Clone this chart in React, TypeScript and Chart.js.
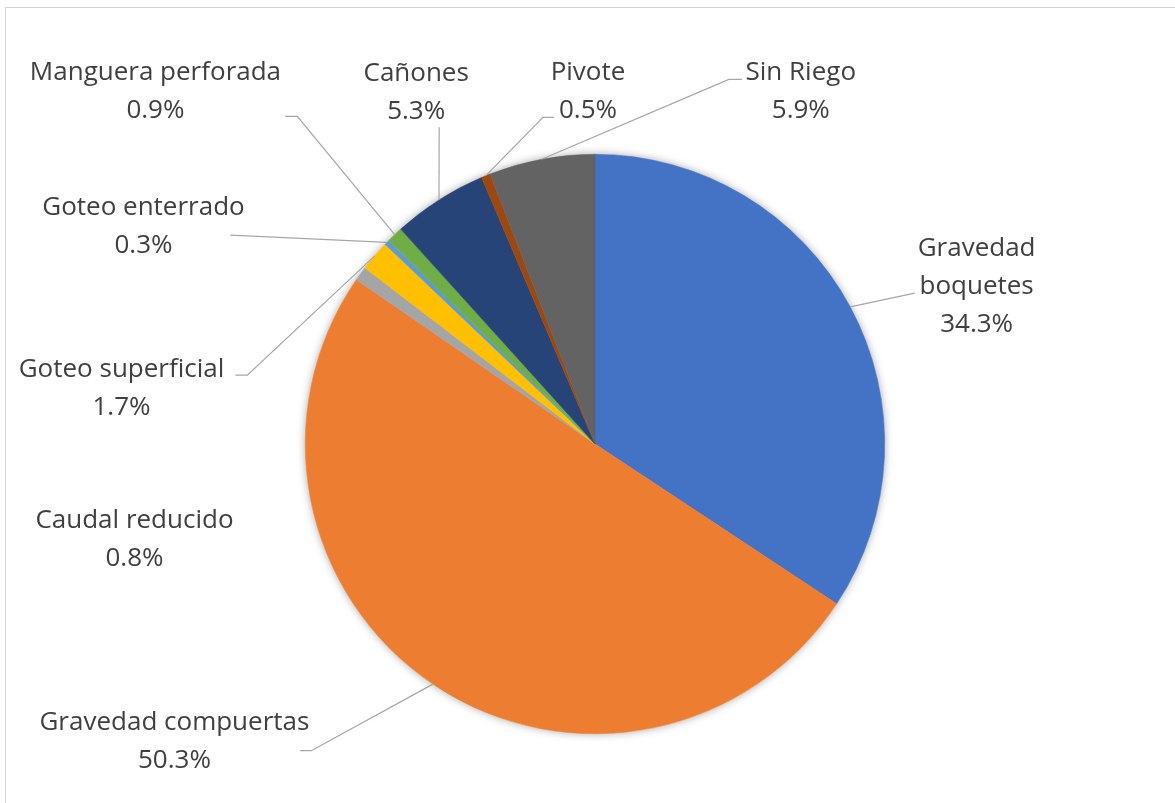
import React, { useEffect, useRef } from "react";
import { Chart, registerables } from "chart.js";

Chart.register(...registerables);

// ---- data ----
const categories = [
  "Gravedad boquetes",
  "Gravedad compuertas",
  "Caudal reducido",
  "Goteo superficial",
  "Goteo enterrado",
  "Manguera perforada",
  "Cañones",
  "Pivote",
  "Sin Riego",
];
const shares = [34.3, 50.3, 0.8, 1.7, 0.3, 0.9, 5.3, 0.5, 5.9];
const sliceColors = [
  "#4472C4",
  "#ED7D31",
  "#A5A5A5",
  "#FFC000",
  "#5B9BD5",
  "#70AD47",
  "#264478",
  "#9E480E",
  "#636363",
];

// ---- label layout (offsets from pie centre, in px for a 290px radius) ----
// nameLines: how the category name is wrapped; tx/ty: text centre x / first baseline;
// lead: leader start [x,y], elbow: optional horizontal elbow x
type LabelLayout = {
  nameLines: string[];
  tx: number;
  ty: number;
  lead?: [number, number];
  elbow?: number;
};
const labelLayout: LabelLayout[] = [
  { nameLines: ["Gravedad", "boquetes"], tx: 382, ty: -188, lead: [320, -151] },
  { nameLines: ["Gravedad compuertas"], tx: -421, ty: 286, lead: [-295, 307], elbow: -284 },
  { nameLines: ["Caudal reducido"], tx: -461, ty: 84 },
  { nameLines: ["Goteo superficial"], tx: -474, ty: -67, lead: [-360, -69], elbow: -348 },
  { nameLines: ["Goteo enterrado"], tx: -452, ty: -229, lead: [-365, -209] },
  { nameLines: ["Manguera perforada"], tx: -440, ty: -364, lead: [-310, -328], elbow: -298 },
  { nameLines: ["Cañones"], tx: -179, ty: -363, lead: [-156, -317] },
  { nameLines: ["Pivote"], tx: -7, ty: -364, lead: [-41, -327], elbow: -52 },
  { nameLines: ["Sin Riego"], tx: 206, ty: -364, lead: [147, -365], elbow: 134 },
];
const BASE_R = 290;

const shadowPlugin = {
  id: "pieShadow",
  beforeDatasetsDraw(chart: any) {
    const meta = chart.getDatasetMeta(0);
    if (!meta.data.length) return;
    const a = meta.data[0];
    const { x, y, outerRadius } = a.getProps(["x", "y", "outerRadius"], true);
    const ctx = chart.ctx;
    ctx.save();
    ctx.beginPath();
    ctx.arc(x, y, outerRadius, 0, Math.PI * 2);
    ctx.fillStyle = "#ffffff";
    ctx.shadowColor = "rgba(0,0,0,0.35)";
    ctx.shadowBlur = 9;
    ctx.fill();
    ctx.restore();
  },
};

const labelPlugin = {
  id: "pieLabels",
  afterDatasetsDraw(chart: any) {
    const meta = chart.getDatasetMeta(0);
    const ctx = chart.ctx;
    ctx.save();
    meta.data.forEach((arc: any, i: number) => {
      const L = labelLayout[i];
      if (!L) return;
      const { x, y, startAngle, endAngle, outerRadius } = arc.getProps(
        ["x", "y", "startAngle", "endAngle", "outerRadius"],
        true
      );
      const s = outerRadius / BASE_R;
      const mid = (startAngle + endAngle) / 2;
      const ex = x + Math.cos(mid) * outerRadius;
      const ey = y + Math.sin(mid) * outerRadius;
      if (L.lead) {
        ctx.beginPath();
        ctx.strokeStyle = "#A6A6A6";
        ctx.lineWidth = 1.2;
        const sx = x + L.lead[0] * s;
        const sy = y + L.lead[1] * s;
        ctx.moveTo(sx, sy);
        if (L.elbow !== undefined) {
          ctx.lineTo(x + L.elbow * s, sy);
        }
        ctx.lineTo(ex, ey);
        ctx.stroke();
      }
      const lines = [...L.nameLines, shares[i].toFixed(1) + "%"];
      ctx.fillStyle = "#404040";
      ctx.font = `${Math.round(26 * s)}px "Open Sans"`;
      ctx.textAlign = "center";
      ctx.textBaseline = "alphabetic";
      lines.forEach((t, k) => {
        ctx.fillText(t, x + L.tx * s, y + (L.ty + k * 38) * s);
      });
    });
    ctx.restore();
  },
};

export default function App() {
  const ref = useRef<HTMLCanvasElement | null>(null);
  useEffect(() => {
    if (!ref.current) return;
    const chart = new Chart(ref.current, {
      type: "pie",
      data: {
        labels: categories,
        datasets: [
          {
            data: shares,
            backgroundColor: sliceColors,
            borderColor: sliceColors,
            borderWidth: 0.6,
          },
        ],
      },
      options: {
        animation: false,
        responsive: false,
        maintainAspectRatio: false,
        layout: { padding: { left: 305, right: 290, top: 154, bottom: 69 } },
        plugins: {
          legend: { display: false },
          tooltip: { enabled: false },
        },
      },
      plugins: [shadowPlugin, labelPlugin],
    });
    return () => chart.destroy();
  }, []);
  return (
    <div
      style={{
        position: "absolute",
        left: 0,
        top: 0,
        width: 1175,
        height: 803,
        overflow: "hidden",
        background: "#ffffff",
      }}
    >
      <div
        style={{
          position: "absolute",
          left: 5,
          top: 7,
          width: 1400,
          height: 1000,
          borderTop: "1.5px solid #d4d4d4",
          borderLeft: "1.5px solid #d4d4d4",
        }}
      />
      <canvas
        ref={ref}
        width={1175}
        height={803}
        style={{ position: "absolute", left: 0, top: 0, width: 1175, height: 803 }}
      />
    </div>
  );
}
